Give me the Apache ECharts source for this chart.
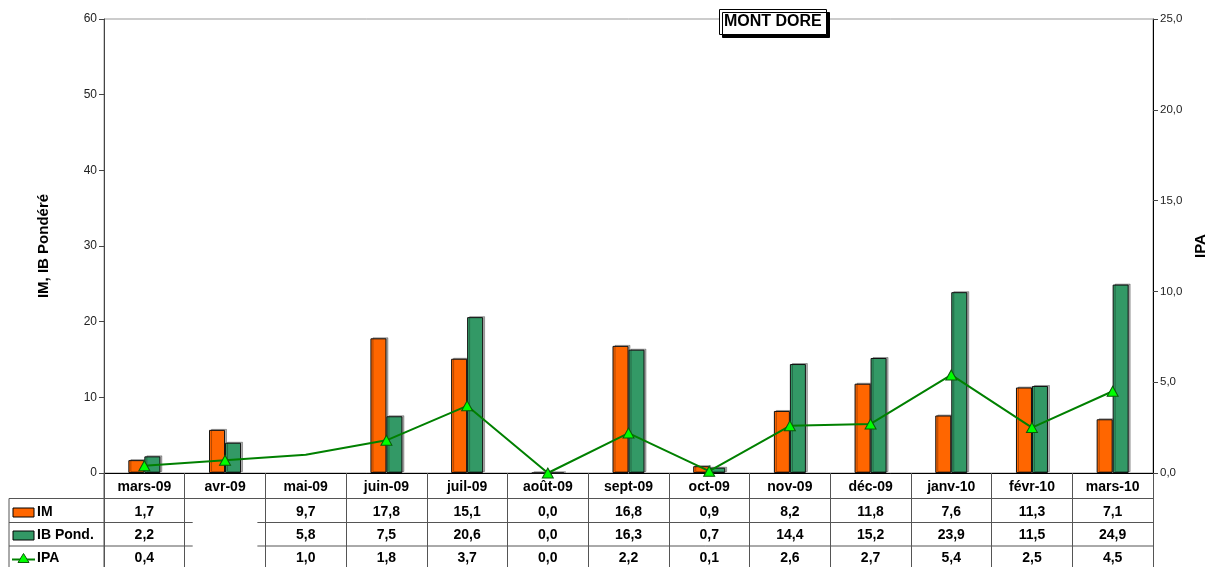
<!DOCTYPE html>
<html>
<head>
<meta charset="utf-8">
<script src="https://cdn.jsdelivr.net/npm/echarts@6/dist/echarts.min.js"></script>
<style>
  html, body { margin: 0; padding: 0; background: #fff; }
  #chart { width: 1212px; height: 567px; }
</style>
</head>
<body>
<div id="chart"></div>
<script>
// Months of the survey
const categories = ['mars-09', 'avr-09', 'mai-09', 'juin-09', 'juil-09', 'août-09', 'sept-09',
  'oct-09', 'nov-09', 'déc-09', 'janv-10', 'févr-10', 'mars-10'];

// Plotted series
const imBars  = [1.7, 5.7, null, 17.8, 15.1, 0.0, 16.8, 0.9, 8.2, 11.8, 7.6, 11.3, 7.1];
const ibBars  = [2.2, 4.0, null, 7.5, 20.6, 0.0, 16.3, 0.7, 14.4, 15.2, 23.9, 11.5, 24.9];
const ipaLine = [0.4, 0.7, 1.0, 1.8, 3.7, 0.0, 2.2, 0.1, 2.6, 2.7, 5.4, 2.5, 4.5];
const ipaUnmarked = [2]; // points drawn on the line without a marker

// Data table rows
const tableIM  = [1.7, null, 9.7, 17.8, 15.1, 0.0, 16.8, 0.9, 8.2, 11.8, 7.6, 11.3, 7.1];
const tableIB  = [2.2, null, 5.8, 7.5, 20.6, 0.0, 16.3, 0.7, 14.4, 15.2, 23.9, 11.5, 24.9];
const tableIPA = [0.4, null, 1.0, 1.8, 3.7, 0.0, 2.2, 0.1, 2.6, 2.7, 5.4, 2.5, 4.5];
const blankColumns = [1];

// Axis ticks
const leftTicks  = { min: 0, max: 60, interval: 10 };
const rightTicks = { min: 0, max: 25, interval: 5 };

const FONT = 'Arial, "Liberation Sans", sans-serif';
const C_IM = '#FF6600', C_IB = '#339966', C_IPA = '#008000', C_MARK = '#00FF00';
const fmt = v => (v == null ? '' : v.toFixed(1).replace('.', ','));

const GRID = { left: 104, right: 59, top: 19, bottom: 94 };
const axisBottom = 567 - GRID.bottom;
const rowCenters = [487, 512.5, 535.5, 558.5];
const rowLines = [498.5, 522.5, 546];
const TABLE_FONT = 14;

function tableAxis(values, center) {
  return {
    type: 'category', data: values.map(fmt), position: 'bottom', gridIndex: 0,
    offset: center - axisBottom, boundaryGap: true,
    axisLine: { show: false }, axisTick: { show: false }, splitLine: { show: false },
    axisLabel: { interval: 0, margin: 0, verticalAlign: 'middle', fontFamily: FONT,
      fontSize: TABLE_FONT, fontWeight: 'bold', color: '#000' }
  };
}

const chart = echarts.init(document.getElementById('chart'), null, { renderer: 'canvas' });

const option = {
  animation: false,
  backgroundColor: '#fff',
  title: {
    text: 'MONT DORE', left: 719, top: 9,
    padding: [5, 5, 5, 5],
    backgroundColor: '#fff', borderColor: '#000', borderWidth: 1,
    shadowColor: '#000', shadowOffsetX: 3, shadowOffsetY: 3, shadowBlur: 0,
    textStyle: { fontFamily: FONT, fontSize: 16, lineHeight: 16, fontWeight: 'bold', color: '#000' }
  },
  grid: { left: GRID.left, right: GRID.right, top: GRID.top, bottom: GRID.bottom,
    outerBoundsMode: 'none', containLabel: false,
    show: true, borderColor: '#999', borderWidth: 1 },
  xAxis: [
    {
      type: 'category', data: categories, boundaryGap: true,
      axisLine: { lineStyle: { color: '#000', width: 1 } },
      axisTick: { show: true, length: 100, lineStyle: { color: '#555' } },
      axisLabel: { interval: 0, margin: rowCenters[0] - axisBottom, verticalAlign: 'middle',
        fontFamily: FONT, fontSize: TABLE_FONT, fontWeight: 'bold', color: '#000' },
      splitLine: { show: false }
    },
    tableAxis(tableIM, rowCenters[1]),
    tableAxis(tableIB, rowCenters[2]),
    tableAxis(tableIPA, rowCenters[3])
  ],
  yAxis: [
    {
      type: 'value', min: leftTicks.min, max: leftTicks.max, interval: leftTicks.interval,
      name: 'IM, IB Pondéré', nameLocation: 'middle', nameGap: 53, nameRotate: 90,
      nameTextStyle: { fontFamily: FONT, fontSize: 15, fontWeight: 'bold', color: '#000' },
      axisLine: { show: true, lineStyle: { color: '#444' } },
      axisTick: { show: true, inside: false, length: 5, lineStyle: { color: '#444' } },
      axisLabel: { fontFamily: FONT, fontSize: 12, color: '#222', margin: 7 },
      splitLine: { show: false }
    },
    {
      type: 'value', position: 'right', min: rightTicks.min, max: rightTicks.max,
      interval: rightTicks.interval,
      name: 'IPA', nameLocation: 'middle', nameGap: 36, nameRotate: 90,
      nameTextStyle: { fontFamily: FONT, fontSize: 15, fontWeight: 'bold', color: '#000' },
      axisLine: { show: true, lineStyle: { color: '#000' } },
      axisTick: { show: true, inside: false, length: 5, lineStyle: { color: '#444' } },
      axisLabel: { fontFamily: FONT, fontSize: 11.5, color: '#222', margin: 7, formatter: v => fmt(v) },
      splitLine: { show: false }
    }
  ],
  series: [
    {
      name: 'IM', type: 'bar', data: imBars, barWidth: 16, barGap: '0%', yAxisIndex: 0,
      itemStyle: { color: C_IM, borderColor: '#111', borderWidth: 1,
        shadowColor: 'rgba(0,0,0,0.3)', shadowOffsetX: 2, shadowOffsetY: -1, shadowBlur: 0 }
    },
    {
      name: 'IB Pond.', type: 'bar', data: ibBars, barWidth: 16, barGap: '0%', yAxisIndex: 0,
      itemStyle: { color: C_IB, borderColor: '#111', borderWidth: 1,
        shadowColor: 'rgba(0,0,0,0.3)', shadowOffsetX: 2, shadowOffsetY: -1, shadowBlur: 0 }
    },
    {
      name: 'IPA', type: 'line', yAxisIndex: 1, z: 5,
      data: ipaLine.map((v, i) => ipaUnmarked.includes(i) ? { value: v, symbol: 'none' } : v),
      symbol: 'triangle', symbolSize: [11, 10], showAllSymbol: true,
      lineStyle: { color: C_IPA, width: 2 },
      itemStyle: { color: C_MARK, borderColor: '#0a5a0a', borderWidth: 1 }
    }
  ]
};

chart.setOption(option);

// Table grid lines and row headers
function buildTable() {
  const x0 = chart.convertToPixel({ xAxisIndex: 0 }, categories[0]);
  const x1 = chart.convertToPixel({ xAxisIndex: 0 }, categories[1]);
  const band = x1 - x0;
  const leftEdge = GRID.left, rightEdge = 1212 - GRID.right;
  const tableLeft = 9;
  const lineStyle = { stroke: '#555', lineWidth: 1 };
  const els = [];

  rowLines.forEach((y, r) => {
    if (r === 0) {
      els.push({ type: 'line', shape: { x1: tableLeft, y1: y, x2: rightEdge, y2: y }, style: lineStyle, silent: true });
      return;
    }
    // skip the empty columns, leaving short stubs at their edges
    let start = tableLeft;
    blankColumns.forEach(ci => {
      const cx = chart.convertToPixel({ xAxisIndex: 0 }, categories[ci]);
      const a = cx - band / 2 + 8, b = cx + band / 2 - 8;
      els.push({ type: 'line', shape: { x1: start, y1: y, x2: a, y2: y }, style: lineStyle, silent: true });
      start = b;
    });
    els.push({ type: 'line', shape: { x1: start, y1: y, x2: rightEdge, y2: y }, style: lineStyle, silent: true });
  });
  els.push({ type: 'line', shape: { x1: tableLeft, y1: rowLines[0], x2: tableLeft, y2: 570 }, style: lineStyle, silent: true });
  els.push({ type: 'line', shape: { x1: leftEdge, y1: axisBottom, x2: leftEdge, y2: 570 }, style: lineStyle, silent: true });

  const labelStyle = { fontFamily: FONT, fontSize: TABLE_FONT, fontWeight: 'bold', fill: '#000', verticalAlign: 'middle' };
  // IM
  els.push({ type: 'rect', shape: { x: 13, y: rowCenters[1] - 4.5, width: 21, height: 9 },
    style: { fill: C_IM, stroke: '#000', lineWidth: 1 }, silent: true });
  els.push({ type: 'text', x: 37, y: rowCenters[1], style: Object.assign({ text: 'IM' }, labelStyle), silent: true });
  // IB Pond.
  els.push({ type: 'rect', shape: { x: 13, y: rowCenters[2] - 4.5, width: 21, height: 9 },
    style: { fill: C_IB, stroke: '#000', lineWidth: 1 }, silent: true });
  els.push({ type: 'text', x: 37, y: rowCenters[2], style: Object.assign({ text: 'IB Pond.' }, labelStyle), silent: true });
  // IPA
  els.push({ type: 'line', shape: { x1: 12, y1: rowCenters[3] + 1, x2: 35, y2: rowCenters[3] + 1 },
    style: { stroke: C_IPA, lineWidth: 2 }, silent: true });
  els.push({ type: 'polygon', shape: { points: [[23.5, rowCenters[3] - 5], [29, rowCenters[3] + 4], [18, rowCenters[3] + 4]] },
    style: { fill: C_MARK, stroke: '#0a5a0a', lineWidth: 1 }, silent: true });
  els.push({ type: 'text', x: 37, y: rowCenters[3], style: Object.assign({ text: 'IPA' }, labelStyle), silent: true });

  chart.setOption({ graphic: els });
}
buildTable();
</script>
</body>
</html>
